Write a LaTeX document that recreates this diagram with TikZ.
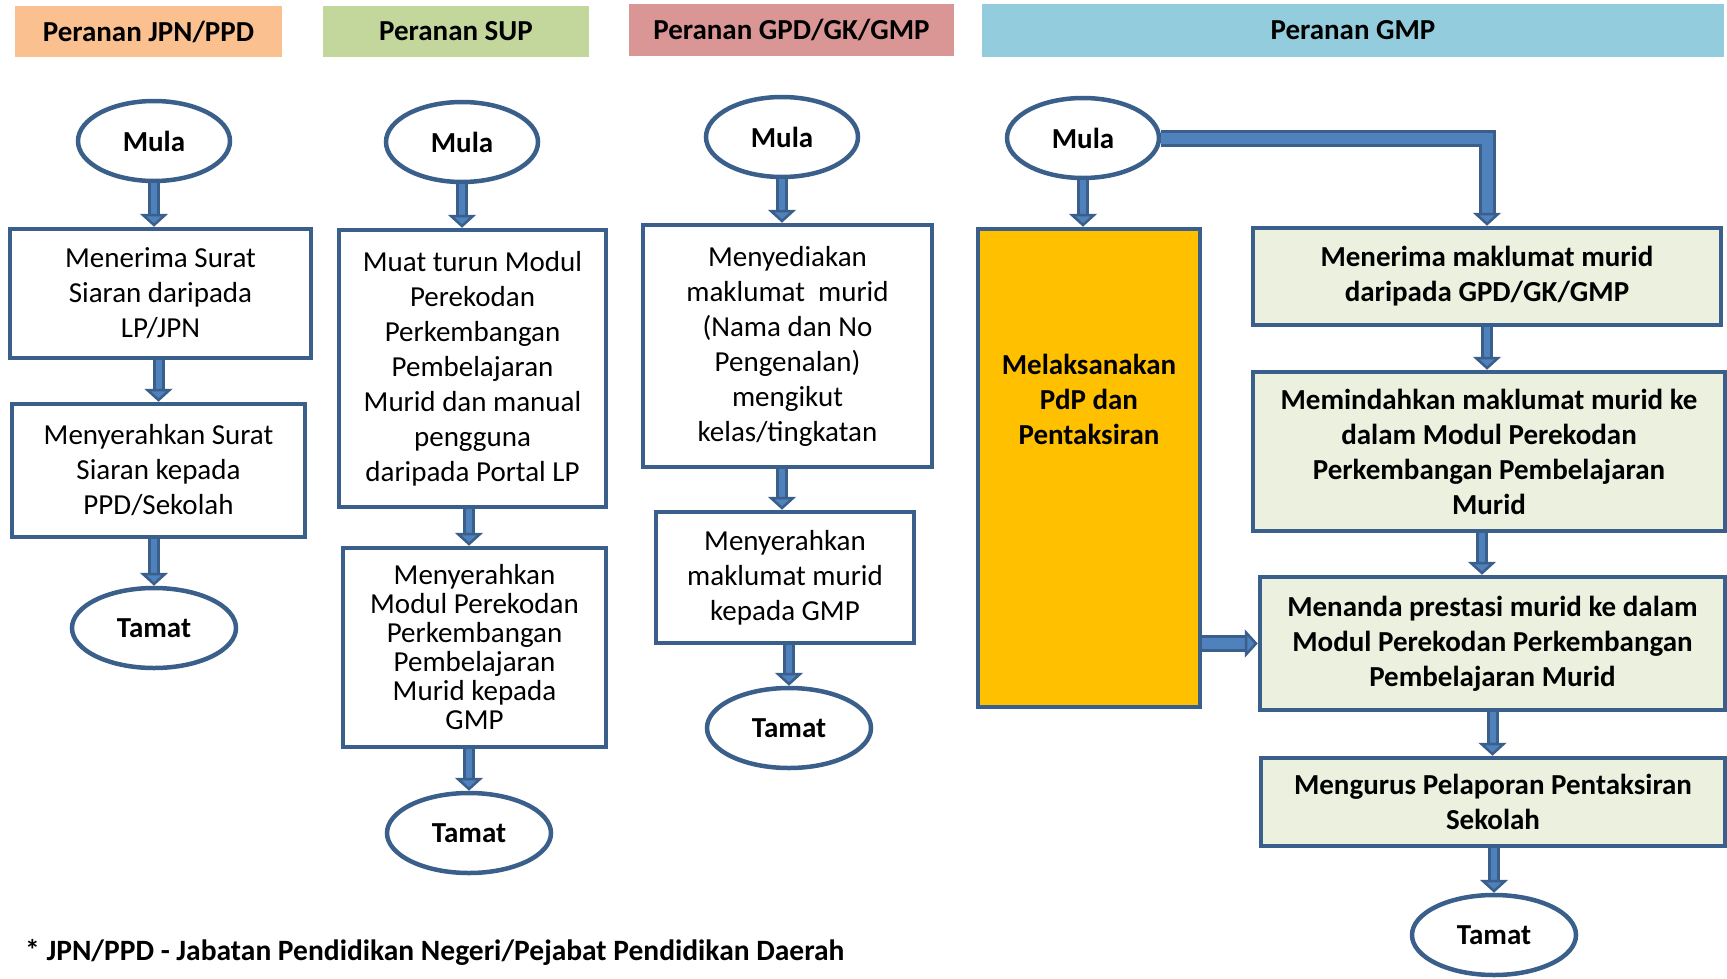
\documentclass[tikz,border=0pt]{standalone}
\usepackage{fontspec}
\setmainfont{Carlito}
\usepackage{xcolor}
\usetikzlibrary{positioning,arrows.meta,shapes.geometric,calc}

\definecolor{bordc}{HTML}{3A5F8B}
\definecolor{arrowc}{HTML}{4F81BD}
\definecolor{jpnc}{HTML}{FAC090}
\definecolor{supc}{HTML}{C3D69B}
\definecolor{gpdc}{HTML}{D99694}
\definecolor{gmpc}{HTML}{93CDDD}
\definecolor{pdpc}{HTML}{FFC000}
\definecolor{gboxc}{HTML}{EBF1DE}

\tikzset{
    head/.style={rectangle, inner sep=0pt, minimum height=51pt,
        font=\fontsize{29}{35}\selectfont\bfseries},
    startend/.style={ellipse, draw=bordc, line width=4.5pt, fill=white,
        minimum width=152pt, minimum height=80pt, inner sep=0pt,
        font=\fontsize{29}{35}\selectfont\bfseries},
    proc/.style={rectangle, draw=bordc, line width=4.5pt, fill=white,
        align=center, inner sep=0pt, font=\fontsize{29}{35}\selectfont},
    gproc/.style={proc, fill=gboxc, font=\fontsize{29}{35}\selectfont\bfseries},
    flow/.style={draw=bordc, line width=3pt, double=arrowc, double distance=6pt,
        -{Triangle[width=28pt,length=13pt,fill=arrowc,line width=2.5pt]}},
    flowwide/.style={flow, double distance=11pt}
}

\begin{document}
\begin{tikzpicture}[x=1pt,y=-1pt]
    \useasboundingbox (0,0) rectangle (1727,978);

    % Headers
    \node[head, fill=jpnc, minimum width=267pt] (hjpn) at (148.5,31.5) {Peranan JPN/PPD};
    \node[head, fill=supc, minimum width=266pt] (hsup) at (456,31.5) {Peranan SUP};
    \node[head, fill=gpdc, minimum width=325pt, minimum height=52pt] (hgpd) at (791.5,30) {Peranan GPD/GK/GMP};
    \node[head, fill=gmpc, minimum width=742pt, minimum height=53pt] (hgmp) at (1353,30.5) {Peranan GMP};

    % JPN/PPD
    \node[startend] (mula1) at (154,141) {Mula};
    \node[proc, minimum width=301pt, minimum height=129pt] (terima1) at (160.5,293.5)
        {Menerima Surat\\Siaran daripada\\LP/JPN};
    \node[proc, minimum width=293pt, minimum height=133pt] (serah1) at (158.5,470.5)
        {Menyerahkan Surat\\Siaran kepada\\PPD/Sekolah};
    \node[startend, minimum width=164pt] (tamat1) at (154,628) {Tamat};
    \draw[flow] (mula1.south) -- (mula1.south |- terima1.north);
    \draw[flow] (serah1.north |- terima1.south) -- (serah1.north);
    \draw[flow] (tamat1.north |- serah1.south) -- (tamat1.north);

    % SUP
    \node[startend] (mula2) at (462,142) {Mula};
    \node[proc, minimum width=267pt, minimum height=277pt] (muat2) at (472.5,368.5)
        {Muat turun Modul\\Perekodan\\Perkembangan\\Pembelajaran\\Murid dan manual\\pengguna\\daripada Portal LP};
    \node[proc, minimum width=263pt, minimum height=199pt, font=\fontsize{29}{29}\selectfont] (serah2) at (474.5,647.5)
        {Menyerahkan\\Modul Perekodan\\Perkembangan\\Pembelajaran\\Murid kepada\\GMP};
    \node[startend, minimum width=164pt] (tamat2) at (469,833) {Tamat};
    \draw[flow] (mula2.south) -- (mula2.south |- muat2.north);
    \draw[flow] (469,0 |- muat2.south) -- (469,0 |- serah2.north);
    \draw[flow] (tamat2.north |- serah2.south) -- (tamat2.north);

    % GPD/GK/GMP
    \node[startend] (mula3) at (782,137) {Mula};
    \node[proc, minimum width=289pt, minimum height=242pt] (sedia3) at (787.5,346)
        {Menyediakan\\maklumat\ \ murid\\(Nama dan No\\Pengenalan)\\mengikut\\kelas/tingkatan};
    \node[proc, minimum width=258pt, minimum height=131pt] (serah3) at (785,577.5)
        {Menyerahkan\\maklumat murid\\kepada GMP};
    \node[startend, minimum width=164pt] (tamat3) at (789,728) {Tamat};
    \draw[flow] (mula3.south) -- (mula3.south |- sedia3.north);
    \draw[flow] (782,0 |- sedia3.south) -- (782,0 |- serah3.north);
    \draw[flow] (tamat3.north |- serah3.south) -- (tamat3.north);

    % GMP
    \node[startend] (mula4) at (1083,138) {Mula};
    \node[proc, fill=pdpc, minimum width=222pt, minimum height=478pt] (pdp) at (1089,468) {};
    \node[align=center, font=\fontsize{29}{35}\selectfont\bfseries] (pdptext) at (1089,399)
        {Melaksanakan\\PdP dan\\Pentaksiran};
    \node[gproc, minimum width=468pt, minimum height=97pt] (terima4) at (1487,276.5)
        {Menerima maklumat murid\\daripada GPD/GK/GMP};
    \node[gproc, minimum width=472pt, minimum height=159pt] (pindah4) at (1489,451.5)
        {Memindahkan maklumat murid ke\\dalam Modul Perekodan\\Perkembangan Pembelajaran\\Murid};
    \node[gproc, minimum width=465pt, minimum height=133pt] (tanda4) at (1492.5,643.5)
        {Menanda prestasi murid ke dalam\\Modul Perekodan Perkembangan\\Pembelajaran Murid};
    \node[gproc, minimum width=464pt, minimum height=88pt] (urus4) at (1493,802)
        {Mengurus Pelaporan Pentaksiran\\Sekolah};
    \node[startend, minimum width=164pt] (tamat4) at (1494,935) {Tamat};
    \draw[flow] (mula4.south) -- (mula4.south |- pdp.north);
    \draw[flowwide] (mula4.east) -- (mula4.east -| terima4.north) -- (terima4.north);
    \draw[flow] (terima4.south) -- (terima4.south |- pindah4.north);
    \draw[flow] (1482,0 |- pindah4.south) -- (1482,0 |- tanda4.north);
    \draw[flow] (tanda4.south) -- (tanda4.south |- urus4.north);
    \draw[flow] (tamat4.north |- urus4.south) -- (tamat4.north);
    \draw[flowwide] (pdp.east |- tanda4.west) -- (tanda4.west);

    % Footnote
    \node[anchor=west, inner sep=0pt, font=\fontsize{29.5}{35}\selectfont\bfseries] (nota) at (25,952)
        {* JPN/PPD - Jabatan Pendidikan Negeri/Pejabat Pendidikan Daerah};
\end{tikzpicture}
\end{document}
